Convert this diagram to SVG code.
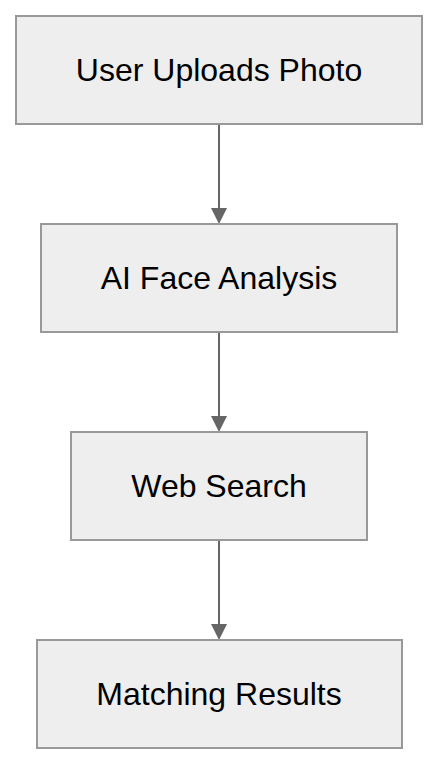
<svg xmlns="http://www.w3.org/2000/svg" width="438" height="764" viewBox="0 0 438 764">
<style>
.box{fill:#eeeeee;stroke:#999999;stroke-width:2}
.lbl{font-family:"Liberation Sans",Arial,Helvetica,sans-serif;font-size:32px;fill:#000000;text-anchor:middle}
.edge{stroke:#666666;stroke-width:2;fill:none}
.head{fill:#666666}
</style>
<rect width="438" height="764" fill="#ffffff"/>
<g id="connectors">
<line class="edge" x1="219" y1="124" x2="219" y2="210"/>
<polygon class="head" points="211,208 227,208 219,224"/>
<line class="edge" x1="219" y1="332" x2="219" y2="418"/>
<polygon class="head" points="211,416 227,416 219,432"/>
<line class="edge" x1="219" y1="540" x2="219" y2="626"/>
<polygon class="head" points="211,624 227,624 219,640"/>
</g>
<g id="node1">
<rect class="box" x="16" y="16" width="406" height="108"/>
<text class="lbl" x="219" y="81">User Uploads Photo</text>
</g>
<g id="node2">
<rect class="box" x="41" y="224" width="356" height="108"/>
<text class="lbl" x="219" y="289">AI Face Analysis</text>
</g>
<g id="node3">
<rect class="box" x="71" y="432" width="296" height="108"/>
<text class="lbl" x="219" y="497">Web Search</text>
</g>
<g id="node4">
<rect class="box" x="37" y="640" width="365" height="108"/>
<text class="lbl" x="219" y="705">Matching Results</text>
</g>
</svg>
